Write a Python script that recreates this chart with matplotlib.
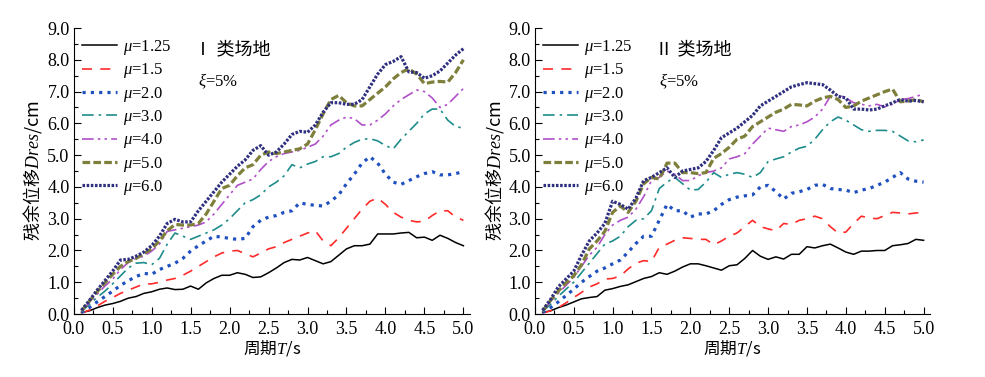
import numpy as np
import matplotlib
matplotlib.use('Agg')
import matplotlib.pyplot as plt
from matplotlib.ticker import MultipleLocator, FormatStrFormatter

plt.rcParams['font.family'] = ['Liberation Serif', 'Noto Sans CJK SC']
plt.rcParams['mathtext.fontset'] = 'custom'
plt.rcParams['mathtext.rm'] = 'Liberation Serif'
plt.rcParams['mathtext.it'] = 'Liberation Serif:italic'

# periods T (s)
T = np.round(np.arange(0.1, 5.01, 0.1), 2)

mu_labels = ['1.25', '1.5', '2.0', '3.0', '4.0', '5.0', '6.0']

# site class I, residual displacement (cm)
site1_mu125 = [0.05, 0.1, 0.2, 0.28, 0.33, 0.4, 0.5, 0.55, 0.65, 0.7, 0.78, 0.82, 0.77, 0.78, 0.88, 0.78, 0.98,
               1.12, 1.22, 1.22, 1.3, 1.25, 1.15, 1.17, 1.3, 1.45, 1.62, 1.72, 1.7, 1.78, 1.68, 1.58, 1.65, 1.85,
               2.05, 2.15, 2.15, 2.2, 2.52, 2.52, 2.52, 2.55, 2.57, 2.4, 2.42, 2.32, 2.48, 2.38, 2.25, 2.15]
site1_mu15 = [0.03, 0.12, 0.25, 0.4, 0.52, 0.65, 0.75, 0.85, 0.95, 0.95, 1.0, 1.07, 1.12, 1.22, 1.35, 1.5, 1.65,
              1.8, 1.92, 1.98, 2.0, 1.9, 1.8, 1.92, 2.05, 2.12, 2.25, 2.35, 2.45, 2.55, 2.62, 2.3, 2.15, 2.4,
              2.7, 3.0, 3.3, 3.55, 3.65, 3.45, 3.2, 3.05, 2.95, 2.9, 2.92, 3.1, 3.25, 3.25, 3.05, 2.95]
site1_mu20 = [0.05, 0.2, 0.38, 0.55, 0.72, 0.9, 1.05, 1.18, 1.28, 1.25, 1.4, 1.5, 1.6, 1.75, 1.98, 2.15, 2.3,
              2.45, 2.42, 2.38, 2.35, 2.38, 2.75, 2.95, 3.05, 3.1, 3.2, 3.25, 3.5, 3.45, 3.42, 3.4, 3.55, 3.75,
              4.1, 4.4, 4.75, 4.95, 4.75, 4.4, 4.15, 4.08, 4.2, 4.32, 4.42, 4.48, 4.38, 4.38, 4.42, 4.48]
site1_mu30 = [0.08, 0.3, 0.52, 0.72, 0.95, 1.2, 1.45, 1.6, 1.62, 1.55, 1.75, 2.2, 2.55, 2.45, 2.35, 2.45, 2.55,
              2.65, 2.8, 3.0, 3.25, 3.5, 3.6, 3.75, 4.0, 4.15, 4.35, 4.7, 4.6, 4.72, 4.8, 4.95, 4.95, 5.05,
              5.25, 5.4, 5.5, 5.52, 5.45, 5.3, 5.2, 5.5, 5.75, 6.0, 6.3, 6.45, 6.45, 6.1, 5.9, 5.85]
site1_mu40 = [0.1, 0.35, 0.62, 0.88, 1.1, 1.4, 1.62, 1.75, 1.82, 1.98, 2.2, 2.6, 2.65, 2.7, 2.75, 2.8, 2.9,
              3.15, 3.45, 3.75, 4.05, 4.15, 4.25, 4.55, 4.8, 4.95, 5.05, 5.1, 5.15, 5.25, 5.35, 5.6, 5.95, 6.1,
              6.2, 6.15, 5.95, 5.95, 6.1, 6.3, 6.55, 6.75, 6.9, 7.05, 7.0, 6.8, 6.5, 6.6, 6.85, 7.1]
site1_mu50 = [0.1, 0.4, 0.7, 0.98, 1.25, 1.5, 1.65, 1.75, 1.9, 2.05, 2.3, 2.62, 2.82, 2.8, 2.8, 2.85, 3.15,
              3.55, 3.95, 4.05, 4.35, 4.6, 4.7, 5.0, 5.1, 5.05, 5.1, 5.15, 5.2, 5.35, 5.8, 6.3, 6.75, 6.88,
              6.65, 6.55, 6.55, 6.75, 6.95, 7.15, 7.4, 7.6, 7.72, 7.55, 7.25, 7.3, 7.32, 7.3, 7.6, 8.0]
site1_mu60 = [0.12, 0.42, 0.75, 1.05, 1.35, 1.7, 1.72, 1.82, 1.95, 2.15, 2.45, 2.85, 2.98, 2.9, 2.9, 3.25, 3.55,
              3.85, 4.15, 4.4, 4.65, 4.85, 5.15, 5.3, 5.0, 5.1, 5.35, 5.65, 5.75, 5.72, 5.95, 6.35, 6.65, 6.65,
              6.6, 6.6, 6.75, 7.15, 7.55, 7.85, 7.95, 8.1, 7.62, 7.6, 7.42, 7.5, 7.65, 7.9, 8.15, 8.35]

# site class II, residual displacement (cm)
site2_mu125 = [0.05, 0.1, 0.2, 0.28, 0.38, 0.48, 0.52, 0.55, 0.75, 0.8, 0.87, 0.92, 1.02, 1.12, 1.18, 1.3, 1.25,
               1.35, 1.48, 1.58, 1.58, 1.52, 1.45, 1.38, 1.52, 1.55, 1.75, 2.0, 1.82, 1.72, 1.8, 1.73, 1.88, 1.88,
               2.12, 2.08, 2.15, 2.2, 2.08, 1.95, 1.88, 1.98, 1.98, 2.0, 2.0, 2.15, 2.18, 2.22, 2.35, 2.32]
site2_mu15 = [0.03, 0.1, 0.2, 0.35, 0.52, 0.68, 0.85, 0.95, 1.1, 1.12, 1.2, 1.42, 1.6, 1.68, 1.65, 2.1, 2.2,
              2.32, 2.4, 2.38, 2.35, 2.35, 2.18, 2.3, 2.45, 2.55, 2.75, 2.95, 2.75, 2.68, 2.62, 2.85, 2.82, 2.95,
              3.0, 3.08, 3.0, 2.75, 2.55, 2.58, 2.85, 3.08, 3.02, 3.0, 3.1, 3.2, 3.18, 3.15, 3.18, 3.2]
site2_mu20 = [0.05, 0.2, 0.38, 0.58, 0.78, 1.0, 1.18, 1.35, 1.45, 1.58, 1.7, 1.95, 2.22, 2.45, 2.45, 2.95, 3.45,
              3.25, 3.25, 3.05, 3.15, 3.15, 3.25, 3.45, 3.6, 3.68, 3.72, 3.75, 4.0, 4.05, 3.85, 3.62, 3.8, 3.85,
              3.92, 4.05, 4.08, 3.95, 3.92, 3.9, 3.82, 3.9, 3.95, 4.05, 4.15, 4.3, 4.45, 4.25, 4.18, 4.15]
site2_mu30 = [0.08, 0.3, 0.55, 0.78, 1.0, 1.3, 1.6, 1.9, 2.2, 2.3, 2.45, 2.75, 2.95, 3.0, 3.25, 3.95, 4.15,
              4.3, 4.1, 3.9, 3.92, 4.15, 4.45, 4.3, 4.4, 4.45, 4.4, 4.3, 4.45, 4.8, 4.88, 4.95, 5.1, 5.22,
              5.28, 5.5, 5.8, 6.05, 6.2, 6.1, 5.95, 5.8, 5.75, 5.78, 5.78, 5.75, 5.6, 5.45, 5.42, 5.48]
site2_mu40 = [0.1, 0.38, 0.65, 0.9, 1.15, 1.5, 1.85, 2.1, 2.5, 2.8, 2.95, 3.05, 3.3, 3.7, 4.2, 4.3, 4.5,
              4.4, 4.2, 4.2, 4.35, 4.45, 4.5, 4.6, 4.88, 4.95, 5.05, 5.35, 5.6, 5.85, 5.8, 5.75, 5.9, 5.95,
              6.05, 6.2, 6.45, 6.85, 6.9, 6.8, 6.65, 6.6, 6.55, 6.6, 6.52, 6.6, 6.75, 6.78, 6.85, 6.92]
site2_mu50 = [0.1, 0.42, 0.72, 0.98, 1.2, 1.55, 2.05, 2.3, 2.6, 3.2, 3.4, 3.2, 3.55, 4.1, 4.3, 4.25, 4.75,
              4.75, 4.45, 4.45, 4.42, 4.45, 4.9, 5.05, 5.25, 5.5, 5.6, 5.9, 6.05, 6.2, 6.35, 6.45, 6.6, 6.58,
              6.55, 6.7, 6.8, 6.85, 6.75, 6.5, 6.55, 6.7, 6.8, 6.9, 7.0, 7.08, 6.68, 6.7, 6.75, 6.68]
site2_mu60 = [0.12, 0.45, 0.85, 1.1, 1.35, 1.85, 2.3, 2.55, 2.85, 3.55, 3.45, 3.3, 3.65, 4.2, 4.3, 4.45, 4.6,
              4.3, 4.5, 4.55, 4.6, 4.8, 5.15, 5.55, 5.7, 5.85, 6.05, 6.25, 6.55, 6.7, 6.85, 7.0, 7.15, 7.22,
              7.28, 7.25, 7.22, 7.05, 6.85, 6.8, 6.45, 6.45, 6.42, 6.45, 6.55, 6.65, 6.75, 6.7, 6.72, 6.68]

site1 = [site1_mu125, site1_mu15, site1_mu20, site1_mu30, site1_mu40, site1_mu50, site1_mu60]
site2 = [site2_mu125, site2_mu15, site2_mu20, site2_mu30, site2_mu40, site2_mu50, site2_mu60]

# line styles: color, width, dash pattern
styles = [
    ('black', 1.1, None),
    ('#ff2a2a', 1.2, (6, 5)),
    ('#1f50c0', 2.3, (1, 1.6)),
    ('#1f8c8c', 1.2, (7, 3, 1.5, 3)),
    ('#b050c8', 1.2, (7, 2.5, 1.5, 2.5, 1.5, 2.5)),
    ('#7f7f3c', 2.3, (2.4, 1.0)),
    ('#2f2f80', 2.3, (0.8, 0.5)),
]

# label fonts: CJK face for Chinese, the math part (T, Dres) in serif italic
cjk = ['Noto Sans CJK SC', 'Liberation Serif']

fig = plt.figure(figsize=(9.85, 3.77), dpi=100)
ax1 = fig.add_axes([0.0748, 0.167, 0.402, 0.7586])
ax2 = fig.add_axes([0.543, 0.167, 0.401, 0.7586])

for ax, data, site in [(ax1, site1, 'Ⅰ 类场地'), (ax2, site2, 'Ⅱ 类场地')]:
    for vals, lab, (c, lw, ds) in zip(data, mu_labels, styles):
        line, = ax.plot(T, vals, color=c, lw=lw, label=r'$\mu$=' + lab)
        if ds is not None:
            line.set_dashes(ds)
    ax.set_xlim(0, 5.08)
    ax.set_ylim(0, 9.0)
    ax.xaxis.set_major_locator(MultipleLocator(0.5))
    ax.xaxis.set_minor_locator(MultipleLocator(0.25))
    ax.yaxis.set_major_locator(MultipleLocator(1.0))
    ax.yaxis.set_minor_locator(MultipleLocator(0.5))
    ax.xaxis.set_major_formatter(FormatStrFormatter('%.1f'))
    ax.yaxis.set_major_formatter(FormatStrFormatter('%.1f'))
    ax.spines['top'].set_visible(False)
    ax.spines['right'].set_visible(False)
    ax.tick_params(which='both', direction='in', labelsize=13, width=0.8)
    ax.tick_params(axis='x', which='major', length=5, pad=5)
    ax.tick_params(axis='y', which='major', length=5, pad=3)
    ax.tick_params(which='minor', length=3)
    ax.set_xlabel('周期$T$/s', fontsize=12, labelpad=0, family=cjk)
    ax.set_ylabel('残余位移$Dres$/cm', fontsize=13, labelpad=2, family=cjk)
    ax.text(1.55, 8.3, site, fontsize=13, va='center', ha='left')
    ax.text(1.6, 7.33, r'$\xi$=5%', fontsize=12, va='center', ha='left')
    ax.legend(loc='upper left', bbox_to_anchor=(0.02, 0.965), frameon=False, fontsize=12,
              handlelength=2.1, handletextpad=0.4, labelspacing=0.26, borderaxespad=0, borderpad=0)

fig.savefig('out.png', dpi=100)
